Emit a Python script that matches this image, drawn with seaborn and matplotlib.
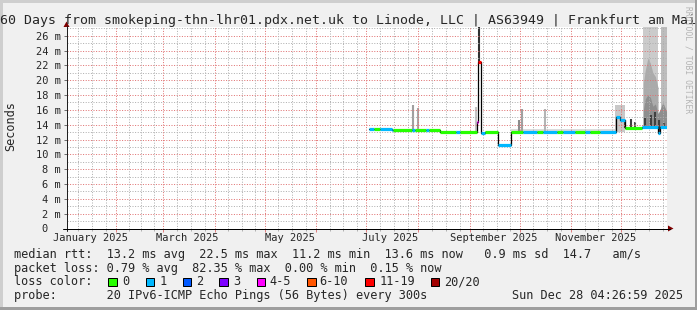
import matplotlib
matplotlib.use("Agg")
import matplotlib.pyplot as plt
import matplotlib.transforms as mtransforms
from matplotlib.lines import Line2D
from matplotlib.patches import Rectangle, Polygon
import numpy as np
import pandas as pd
import seaborn as sns

# ---------------- data ----------------
TITLE = "360 Days from smokeping-thn-lhr01.pdx.net.uk to Linode, LLC | AS63949 | Frankfurt am Main"
x_start_day = 1.185      # 2025-01-02 04:27 (day of year, Jan 1 00:00 = 0)
x_end_day = 361.185      # 2025-12-28 04:27
y_max = 27.2             # ms
month_start_days = [0, 31, 59, 90, 120, 151, 181, 212, 243, 273, 304, 334, 365]
month_label_days = [15.3, 73.8, 135.0, 195.6, 257.6, 318.6]
month_labels = ["January 2025", "March 2025", "May 2025", "July 2025",
                "September 2025", "November 2025"]
y_ticks = list(range(0, 27, 2))

# median rtt (ms), step series: value holds from day i to day i+1
med_day = [182.7, 196.5, 225.3, 247.2, 248.3, 249.6, 252.3, 259.9, 267.7,
           330.7, 333.3, 336.3, 346.3, 355.8, 357.0, 361.2]
med_val = [13.45, 13.3, 13.0, 14.3, 22.5, 12.85, 13.0, 11.25, 13.05,
           15.1, 14.6, 13.5, 13.75, 12.9, 13.75, 13.6]

# packet loss colour segments (start day, end day, loss level index)
loss_start = [182.7, 185.7, 189.3, 197.1, 208.5, 210.3, 216.9, 218.7, 234.9, 237.3,
              247.2, 248.3, 249.6, 252.3, 259.9, 267.7, 275.0, 283.4, 287.0, 295.4,
              299.0, 306.2, 312.2, 315.2, 321.2, 336.3, 346.3]
loss_end = [185.7, 189.3, 197.1, 208.5, 210.3, 216.9, 218.7, 234.9, 237.3, 247.2,
            248.3, 249.6, 252.3, 259.9, 267.7, 275.0, 283.4, 287.0, 295.4, 299.0,
            306.2, 312.2, 315.2, 321.2, 336.3, 346.3, 361.2]
loss_level = [1, 0, 1, 0, 1, 0, 1, 0, 1, 0,
              4, 6, 1, 0, 1, 0, 1, 0, 1, 0,
              1, 0, 1, 0, 1, 0, 1]
loss_labels = ["0", "1", "2", "3", "4-5", "6-10", "11-19", "20/20"]
loss_colors = ["#26ff00", "#00b8ff", "#0059ff", "#7e00ff",
               "#ff00ff", "#ff5500", "#ff0000", "#a10000"]

# smoke: single spikes (day, top ms, shade)
spike_day = [209.1, 212.1, 247.0, 248.4, 272.5, 274.3, 288.5,
             336.3, 339.7, 342.3, 348.2, 351.6, 354.0, 356.6, 359.5]
spike_top = [16.6, 16.2, 16.4, 30.0, 14.6, 16.1, 16.1,
             14.6, 14.8, 14.4, 14.9, 15.3, 15.7, 14.6, 14.2]
spike_shade = ["#a0a0a0", "#a8a8a8", "#c4c4c4", "#303030", "#8c8c8c", "#a0a0a0", "#b4b4b4",
               "#404040", "#404040", "#505050", "#404040", "#404040", "#404040", "#404040", "#505050"]

# smoke: bands (start day, end day, top ms, shade)
band_start = [267.7, 330.2, 347.3, 357.6]
band_end = [330.7, 336.3, 356.1, 361.2]
band_top = [13.45, 16.7, 30.0, 30.0]
band_shade = ["#dcdcdc", "#c8c8c8", "#cbcbcb", "#bdbdbd"]

# smoke: inner layers of the December block (day, top ms)
mid_day = [347.3, 348.5, 350.0, 351.5, 353.0, 354.5, 356.1]
mid_top = [19.6, 21.4, 23.0, 22.3, 21.0, 20.5, 19.0]
dark_day = [347.3, 348.5, 350.0, 351.5, 353.0, 354.5, 356.1, 357.6, 359.0, 361.2]
dark_top = [16.0, 17.5, 18.0, 17.7, 16.5, 16.8, 15.5, 16.2, 17.0, 15.8]

# statistics shown in the legend
rtt_avg, rtt_max, rtt_min, rtt_now, rtt_sd, rtt_ams = 13.2, 22.5, 11.2, 13.6, 0.9, 14.7
loss_avg, loss_max, loss_min, loss_now = 0.79, 82.35, 0.00, 0.15
probe_text = "20 IPv6-ICMP Echo Pings (56 Bytes) every 300s"
stamp_text = "Sun Dec 28 04:26:59 2025"

# ---------------- figure ----------------
sns.set_style("white")
plt.rcParams["font.family"] = ["DejaVu Sans Mono", "DejaVu Sans"]

W, H = 697, 310
fig = plt.figure(figsize=(W / 100, H / 100), dpi=100)
fig.patch.set_facecolor("#f0f0f0")


def fx(x):
    return x / W


def fy(y):
    return 1 - y / H


AX_L, AX_R, AX_B = 66.5, 666.5, 228.5
AX_T = AX_B - y_max * 7.415
ax = fig.add_axes([fx(AX_L), fy(AX_B), (AX_R - AX_L) / W, (AX_B - AX_T) / H])
ax.set_facecolor("white")
ax.set_xlim(x_start_day, x_end_day)
ax.set_ylim(0, y_max)
for s in ax.spines.values():
    s.set_visible(False)

# frame shading
fig.add_artist(Rectangle((0, fy(3)), 1, 3 / H, transform=fig.transFigure, color="#cecece", lw=0))
fig.add_artist(Rectangle((0, 0), 3 / W, 1, transform=fig.transFigure, color="#cecece", lw=0))
fig.add_artist(Rectangle((0, 0), 1, 3 / H, transform=fig.transFigure, color="#9e9e9e", lw=0))
fig.add_artist(Rectangle((fx(695), 0), 2 / W, 1, transform=fig.transFigure, color="#9e9e9e", lw=0))

# smoke
md = np.array(med_day)
mv = np.array(med_val)


def med_at(d):
    i = np.clip(np.searchsorted(md, d, side="right") - 1, 0, len(mv) - 1)
    return mv[i]


for s, e, t, c in zip(band_start, band_end, band_top, band_shade):
    xs = np.array([s, e])
    ax.fill_between(xs, med_at(s) - 0.05, t, color=c, lw=0, zorder=1)
ax.fill_between(mid_day, 13.7, mid_top, color="#ababab", lw=0, zorder=1.2)
ax.fill_between(dark_day, 13.7, dark_top, color="#8e8e8e", lw=0, zorder=1.3)
for d, t, c in zip(spike_day, spike_top, spike_shade):
    ax.vlines(d, med_at(d), t, color=c, lw=1.5, zorder=1.5)

# grid
dot = (0, (1, 1.6))
MAJ, MIN = "#e07272", "#b0b0b0"
for v in range(1, 28):
    ax.axhline(v, color=MAJ if v % 2 == 0 else MIN, lw=0.72, ls=dot, zorder=2)
minor_x = []
for a, b in zip(month_start_days[:-1], month_start_days[1:]):
    for k in (1, 2, 3):
        d = a + k * (b - a) / 3.7
        if x_start_day < d < x_end_day:
            minor_x.append(d)
for d in minor_x:
    ax.axvline(d, color=MIN, lw=0.72, ls=dot, zorder=2)
major_x = [d for d in month_start_days if x_start_day < d < x_end_day]
for d in major_x:
    ax.axvline(d, color=MAJ, lw=0.72, ls=dot, zorder=2)

# median line
df = pd.DataFrame({"day": med_day, "rtt": med_val})
sns.lineplot(data=df, x="day", y="rtt", drawstyle="steps-post", color="black",
             lw=0.9, ax=ax, zorder=4, estimator=None)
for s, e, lev in zip(loss_start, loss_end, loss_level):
    for i in range(len(md) - 1):
        a, b = max(s, md[i]), min(e, md[i + 1])
        if b > a:
            ax.hlines(mv[i], a, b, color=loss_colors[lev], lw=2.3, zorder=5,
                      capstyle="butt")
ax.set_xlabel("")
ax.set_ylabel("")

# ticks
ax.set_yticks(y_ticks)
ax.set_yticklabels(["0  "] + [f"{v} m" for v in y_ticks[1:]])
ax.tick_params(axis="y", which="major", length=2.2, width=0.72, color="#707070",
               direction="out", pad=1.8, labelsize=7.5, left=True)
ax.set_xticks(major_x)
ax.set_xticklabels([])
ax.set_xticks(minor_x, minor=True)
ax.tick_params(axis="x", which="major", length=2.2, width=0.72, color="#e08080",
               direction="out", bottom=True)
ax.tick_params(axis="x", which="minor", length=1.4, width=0.72, color="#b0b0b0",
               direction="out", bottom=True)
trans = mtransforms.blended_transform_factory(ax.transData, fig.transFigure)
for d, lab in zip(month_label_days, month_labels):
    ax.text(d, fy(241), lab, transform=trans, ha="center", va="baseline", fontsize=7.5,
            clip_on=False)

# axes lines and arrows
fig.add_artist(Line2D([fx(AX_L), fx(AX_L)], [fy(231), fy(26)], transform=fig.transFigure,
                      color="#202020", lw=0.72))
fig.add_artist(Line2D([fx(63), fx(670)], [fy(AX_B), fy(AX_B)], transform=fig.transFigure,
                      color="#000000", lw=0.72))
fig.add_artist(Polygon([(fx(AX_L), fy(21.5)), (fx(AX_L - 3), fy(27)), (fx(AX_L + 3), fy(27))],
                       closed=True, transform=fig.transFigure, color="#7f0000", lw=0))
fig.add_artist(Polygon([(fx(673.5), fy(AX_B)), (fx(668), fy(AX_B - 3)), (fx(668), fy(AX_B + 3))],
                       closed=True, transform=fig.transFigure, color="#7f0000", lw=0))

# texts
fig.text(fx(348.5), fy(24), TITLE, ha="center", va="baseline", fontsize=9.57)
fig.text(fx(10.5), fy(126.5), "Seconds", rotation=90, ha="center", va="center", fontsize=8.55)
fig.text(fx(688), fy(60), "RRDTOOL / TOBI OETIKER", rotation=270, ha="center", va="center",
         fontsize=5.8, color="#b4b4b4")

LX = 14
fs = 8.55
line1 = (f"median rtt:  {rtt_avg:.1f} ms avg  {rtt_max:.1f} ms max  {rtt_min:.1f} ms min  "
         f"{rtt_now:.1f} ms now   {rtt_sd:.1f} ms sd  {rtt_ams:.1f}   am/s")
line2 = (f"packet loss: {loss_avg:.2f} % avg  {loss_max:.2f} % max  {loss_min:.2f} % min  "
         f"{loss_now:.2f} % now")
fig.text(fx(LX), fy(258.3), line1, ha="left", va="baseline", fontsize=fs)
fig.text(fx(LX), fy(271.8), line2, ha="left", va="baseline", fontsize=fs)
fig.text(fx(LX), fy(285.3), "loss color:", ha="left", va="baseline", fontsize=fs)
box_x = [108, 145.7, 182.7, 219, 256.7, 307, 365, 430.7]
lab_x = [122, 159.7, 196, 233, 269.7, 319.7, 379.7, 444]
for bx, lx, lab, col in zip(box_x, lab_x, loss_labels, loss_colors):
    fig.add_artist(Rectangle((fx(bx), fy(286)), 8.5 / W, 8.5 / H, transform=fig.transFigure,
                             facecolor=col, edgecolor="black", lw=0.72))
    fig.text(fx(lx), fy(285.3), lab, ha="left", va="baseline", fontsize=fs)
fig.text(fx(LX), fy(298.8), "probe:       " + probe_text, ha="left", va="baseline", fontsize=fs)
fig.text(fx(512.5), fy(298.8), stamp_text, ha="left", va="baseline", fontsize=fs)

fig.savefig("out.png", dpi=100, facecolor=fig.get_facecolor())
